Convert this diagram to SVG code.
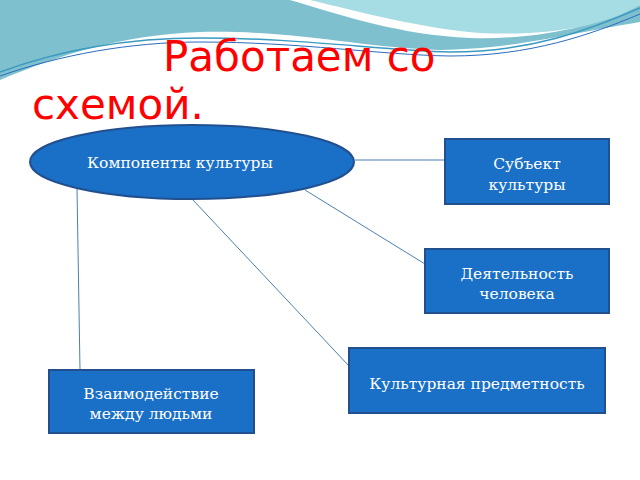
<svg xmlns="http://www.w3.org/2000/svg" width="640" height="480" viewBox="0 0 640 480">
<style>
.n{fill:#1a6fc6;stroke:#22508f;stroke-width:2}
.t{font-family:"DejaVu Serif",serif;font-size:15.5px;fill:#fff;text-anchor:middle}
.c line{stroke:#4a7fb0;stroke-width:1}
.h{font-family:"DejaVu Sans",sans-serif;font-size:42px;fill:#ff0000}
</style>
<rect width="640" height="480" fill="#fff"/>
<path d="M0 0H640V22C560 35 520 48 440 50C360 48 300 30 200 32C120 35 60 55 0 80Z" fill="#7fc0cf"/>
<path d="M290 0H640V5C600 25 540 40 470 38C400 35 340 15 290 0Z" fill="#fff"/>
<path d="M310 0H640V5C600 28 545 36 480 33C420 28 360 12 310 0Z" fill="#a6dce3"/>
<path d="M0 72C60 50 130 38 200 38C300 38 380 50 450 52C530 52 590 30 640 8" fill="none" stroke="#3a9ac0" stroke-width="1.5"/>
<path d="M0 76C60 55 130 42 200 42C300 42 380 55 450 56C530 56 590 35 640 14" fill="none" stroke="#2a6cc0" stroke-width="1"/>
<text class="h" x="163" y="71">Работаем со</text>
<text class="h" x="32" y="119">схемой.</text>
<g class="c">
<line x1="355" y1="160" x2="445" y2="160"/>
<line x1="305" y1="190" x2="425" y2="264"/>
<line x1="193" y1="200" x2="349" y2="366"/>
<line x1="77" y1="188" x2="80" y2="370"/>
</g>
<g id="n0"><ellipse class="n" cx="192" cy="162" rx="162" ry="37"/><text class="t" x="180" y="168">Компоненты культуры</text></g>
<g id="n1"><rect class="n" x="445" y="139" width="164" height="65"/><text class="t" x="527" y="169">Субъект</text><text class="t" x="527" y="190">культуры</text></g>
<g id="n2"><rect class="n" x="425" y="249" width="184" height="64"/><text class="t" x="517" y="279">Деятельность</text><text class="t" x="517" y="299">человека</text></g>
<g id="n3"><rect class="n" x="349" y="348" width="256" height="65"/><text class="t" x="477" y="389">Культурная предметность</text></g>
<g id="n4"><rect class="n" x="49" y="370" width="205" height="63"/><text class="t" x="151" y="399">Взаимодействие</text><text class="t" x="151" y="419">между людьми</text></g>
</svg>
